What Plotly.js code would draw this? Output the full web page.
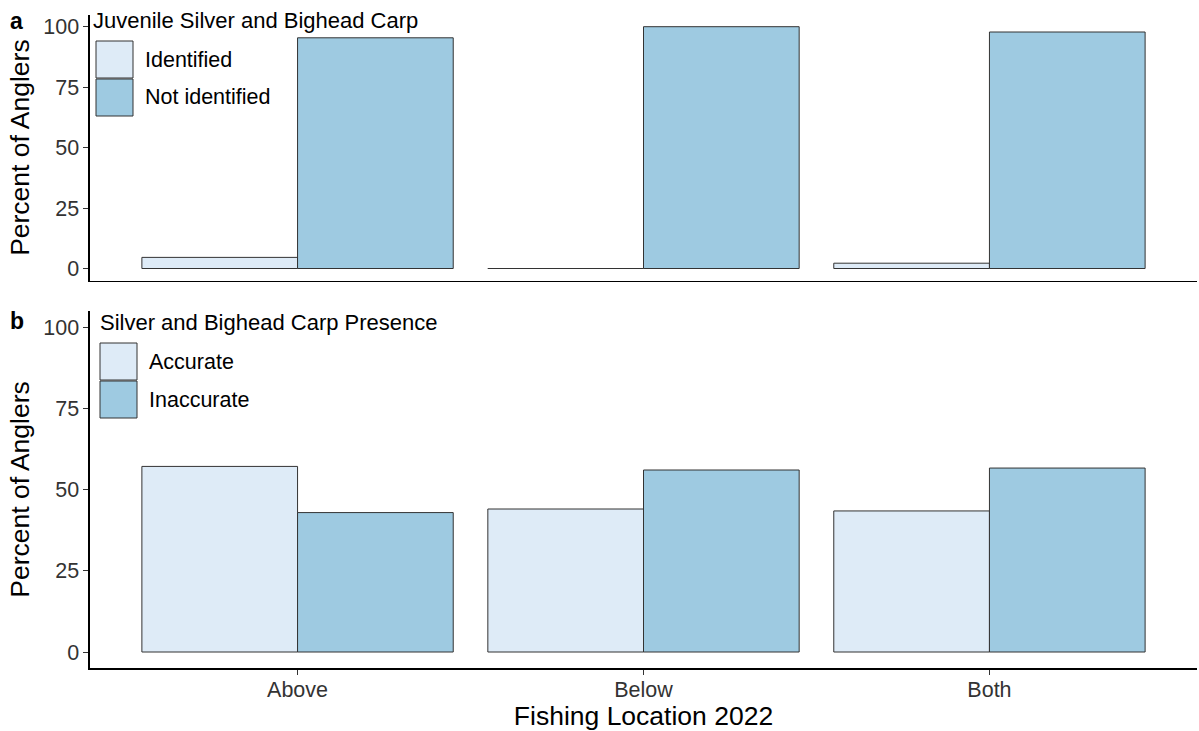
<!DOCTYPE html>
<html>
<head>
<meta charset="utf-8">
<script src="https://cdn.plot.ly/plotly-3.0.1.min.js"></script>
<style>html,body{margin:0;padding:0;background:#fff;}#chart{width:1199px;height:731px;}</style>
</head>
<body>
<div id="chart"></div>
<script>
// ---- data ----
const locations = ['Above', 'Below', 'Both'];
const identified = [4.6, 0, 2.2];
const notIdentified = [95.4, 100, 97.8];
const accurate = [57.1, 44.0, 43.4];
const inaccurate = [42.9, 56.0, 56.6];
const yTicks = [0, 25, 50, 75, 100];
const legendTitleA = 'Juvenile Silver and Bighead Carp';
const legendLabelsA = ['Identified', 'Not identified'];
const legendTitleB = 'Silver and Bighead Carp Presence';
const legendLabelsB = ['Accurate', 'Inaccurate'];
const panelLabels = ['a', 'b'];
const yTitle = 'Percent of Anglers';
const xTitle = 'Fishing Location 2022';

// ---- style ----
const W = 1199, H = 731;
const light = '#deebf7', dark = '#9ecae1', edge = '#333333';
const FONT = 'Liberation Sans, Arial, sans-serif';
const px = x => x / W, py = y => 1 - y / H;

function bar(name, vals, color, xa, ya) {
  return {type: 'bar', name: name, x: locations, y: vals, xaxis: xa, yaxis: ya,
    marker: {color: color, line: {color: edge, width: 1}}, showlegend: false,
    hoverinfo: 'x+y+name'};
}

const data = [
  bar(legendLabelsA[0], identified, light, 'x', 'y'),
  bar(legendLabelsA[1], notIdentified, dark, 'x', 'y'),
  bar(legendLabelsB[0], accurate, light, 'x2', 'y2'),
  bar(legendLabelsB[1], inaccurate, dark, 'x2', 'y2')
];

const xDom = [px(90), px(1197)];
const yAxisCommon = {
  range: [-5, 105], tickvals: yTicks, ticks: 'outside', ticklen: 5, tickwidth: 1, tickcolor: '#333',
  showline: true, linecolor: '#000', linewidth: 1.6, showgrid: false, zeroline: false,
  tickfont: {family: FONT, size: 21.5, color: '#333'},
  title: {text: yTitle, font: {family: FONT, size: 26.5, color: '#000'}, standoff: 6},
  fixedrange: true
};
const layout = {
  width: W, height: H, margin: {l: 0, r: 0, t: 0, b: 0},
  paper_bgcolor: '#fff', plot_bgcolor: '#fff',
  barmode: 'group', bargap: 0.1, bargroupgap: 0,
  font: {family: FONT},
  xaxis: {domain: xDom, anchor: 'y', type: 'category', range: [-0.6, 2.6],
    showline: true, linecolor: '#000', linewidth: 1.6, ticks: '', showticklabels: false,
    showgrid: false, zeroline: false, fixedrange: true},
  yaxis: Object.assign({}, yAxisCommon, {domain: [py(280.6), py(14.6)], anchor: 'x'}),
  xaxis2: {domain: xDom, anchor: 'y2', type: 'category', range: [-0.6, 2.6],
    showline: true, linecolor: '#000', linewidth: 1.6, ticks: 'outside', ticklen: 5, tickcolor: '#333',
    tickfont: {family: FONT, size: 21.5, color: '#333'}, ticklabelstandoff: -4,
    title: {text: xTitle, font: {family: FONT, size: 26.5, color: '#000'}, standoff: 6},
    showgrid: false, zeroline: false, fixedrange: true},
  yaxis2: Object.assign({}, yAxisCommon, {domain: [py(668.25), py(310.75)], anchor: 'x2'}),
  shapes: [],
  annotations: []
};

// manual legends (large ggplot-style keys)
function addLegend(title, labels, tx, ty, kx, ky0, ks) {
  layout.annotations.push({text: title, xref: 'paper', yref: 'paper', x: px(tx), y: py(ty),
    xanchor: 'left', yanchor: 'middle', showarrow: false,
    font: {family: FONT, size: 22, color: '#000'}});
  const cols = [light, dark];
  labels.forEach((lab, i) => {
    const y0 = ky0 + i * (ks + 1);
    layout.shapes.push({type: 'rect', xref: 'paper', yref: 'paper',
      x0: px(kx), x1: px(kx + ks), y0: py(y0 + ks), y1: py(y0),
      fillcolor: cols[i], line: {color: edge, width: 1}});
    layout.annotations.push({text: lab, xref: 'paper', yref: 'paper',
      x: px(kx + ks + 10), y: py(y0 + ks / 2), xanchor: 'left', yanchor: 'middle', showarrow: false,
      font: {family: FONT, size: 21.5, color: '#000'}});
  });
}
addLegend(legendTitleA, legendLabelsA, 91, 21, 96, 41, 37);
addLegend(legendTitleB, legendLabelsB, 98, 322, 100, 343, 37);

// panel labels
[[panelLabels[0], 21], [panelLabels[1], 321]].forEach(([t, y]) => {
  layout.annotations.push({text: '<b>' + t + '</b>', xref: 'paper', yref: 'paper',
    x: px(8), y: py(y), xanchor: 'left', yanchor: 'middle', showarrow: false,
    font: {family: FONT, size: 23, color: '#000'}});
});

Plotly.newPlot('chart', data, layout, {displayModeBar: false, staticPlot: true});
</script>
</body>
</html>
